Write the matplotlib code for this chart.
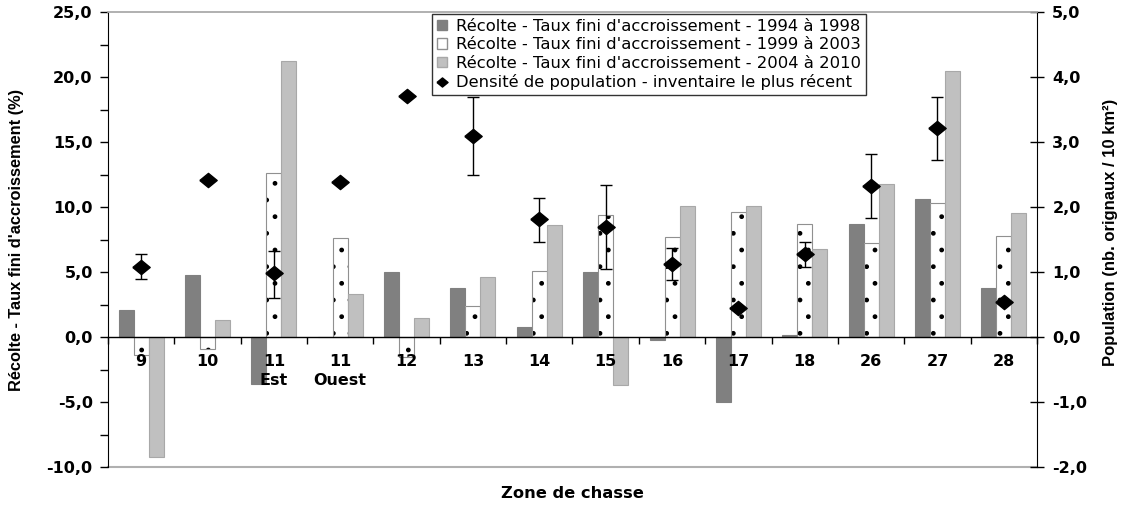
import matplotlib
matplotlib.use("Agg")
from matplotlib import pyplot as plt
from matplotlib.ticker import FuncFormatter, FixedLocator, NullFormatter
from matplotlib.patches import Patch
from matplotlib.lines import Line2D
import numpy as np

plt.rcParams['font.family'] = ['DejaVu Sans']

# zones de chasse
zones = ["9", "10", "11\nEst", "11\nOuest", "12", "13", "14", "15", "16", "17", "18", "26", "27", "28"]

# taux fini d'accroissement de la recolte (%)
taux_94_98 = [2.1, 4.8, -3.6, 0.0, 5.0, 3.8, 0.8, 5.0, -0.2, -5.0, 0.15, 8.7, 10.6, 3.8]
taux_99_03 = [-1.4, -0.95, 12.6, 7.6, -1.5, 2.4, 5.05, 9.4, 7.7, 9.6, 8.7, 7.2, 10.3, 7.8]
taux_04_10 = [-9.2, 1.3, 21.2, 3.3, 1.45, 4.6, 8.6, -3.7, 10.05, 10.1, 6.75, 11.8, 20.5, 9.55]

# densite de population (nb orignaux / 10 km2) et erreurs
densite = [1.08, 2.41, 0.98, 2.39, 3.71, 3.10, 1.81, 1.70, 1.12, 0.45, 1.27, 2.33, 3.22, 0.54]
err_bas = [0.18, 0, 0.38, 0, 0, 0.61, 0.35, 0.65, 0.25, 0, 0.20, 0.50, 0.50, 0]
err_haut = [0.20, 0, 0.35, 0, 0, 0.59, 0.33, 0.64, 0.25, 0, 0.19, 0.49, 0.48, 0]

x = np.arange(len(zones))
w = 0.226
gris_fonce = '#808080'
gris_clair = '#c0c0c0'
losange = [(-1, 0), (0, 0.82), (1, 0), (0, -0.82), (-1, 0)]

fig = plt.figure(figsize=(11.23, 5.08), dpi=100)
ax = fig.add_axes([108/1123, 1-467/508, (1037-108)/1123, (467-12)/508])
ax2 = ax.twinx()
ax.set_axisbelow(False)

ax.bar(x - w, taux_94_98, w, color=gris_fonce, edgecolor=gris_fonce, linewidth=0.8, zorder=2)
# barres pointillees : points noirs + contour gris
ax.bar(x, taux_99_03, w, color='white', edgecolor='black', hatch='.', linewidth=0, zorder=2)
ax.bar(x, taux_99_03, w, fill=False, edgecolor='#909090', linewidth=0.8, zorder=2)
ax.bar(x + w, taux_04_10, w, color=gris_clair, edgecolor='#a8a8a8', linewidth=0.8, zorder=2)

ax.set_xlim(-0.5, len(zones) - 0.5)
ax.set_ylim(-10, 25)
ax.set_yticks(np.arange(-10, 26, 5))
ax.yaxis.set_minor_locator(FixedLocator(np.arange(-7.5, 25, 5)))
fmt = FuncFormatter(lambda v, p: ("%.1f" % v).replace('.', ','))
ax.yaxis.set_major_formatter(fmt)
ax.tick_params(axis='y', which='both', direction='out', length=6, width=1, labelsize=11.5, pad=5)
for lb in ax.get_yticklabels():
    lb.set_fontweight('bold')

# axe des x sur la ligne zero
ax.spines['bottom'].set_position(('data', 0))
ax.spines['bottom'].set_linewidth(1)
ax.xaxis.set_major_locator(FixedLocator(np.arange(-0.5, len(zones), 1)))
ax.xaxis.set_major_formatter(NullFormatter())
ax.xaxis.set_minor_locator(FixedLocator(x))
ax.set_xticklabels(zones, minor=True)
ax.tick_params(axis='x', which='major', direction='out', length=5, width=1)
ax.tick_params(axis='x', which='minor', length=0, pad=12, labelsize=11.5)
for lb in ax.get_xticklabels(minor=True):
    lb.set_fontweight('bold')
    lb.set_linespacing(1.35)

for a in (ax, ax2):
    a.spines['top'].set_color('#b0b0b0')
    a.spines['top'].set_linewidth(1.2)
ax.spines['right'].set_visible(False)
ax2.spines['left'].set_visible(False)
ax2.spines['bottom'].set_visible(False)
ax.axhline(-10, color='#b0b0b0', linewidth=1.5, clip_on=False, zorder=1)

ax2.errorbar(x, densite, yerr=[err_bas, err_haut], fmt='none', ecolor='black', elinewidth=1, capsize=4, capthick=1, zorder=3)
ax2.plot(x, densite, linestyle='none', marker=losange, markersize=12.5, color='black', zorder=4)
ax2.set_ylim(-2, 5)
ax2.set_yticks(np.arange(-2, 6, 1))
ax2.yaxis.set_major_formatter(fmt)
ax2.tick_params(axis='y', direction='inout', length=10, width=1, labelsize=11.5, pad=6)
for lb in ax2.get_yticklabels():
    lb.set_fontweight('bold')

fig.text(17/1123, 1-240/508, "Récolte - Taux fini d'accroissement (%)", rotation=90,
         ha='center', va='center', fontsize=11.8, fontweight='bold', family='Liberation Sans')
fig.text(1110/1123, 1-232/508, "Population (nb. orignaux / 10 km²)", rotation=90,
         ha='center', va='center', fontsize=12, fontweight='bold', family='Liberation Sans')
fig.text(572/1123, 1-494/508, "Zone de chasse", ha='center', va='center', fontsize=11.7, fontweight='bold')

poignees = [
    Patch(facecolor=gris_fonce, edgecolor=gris_fonce),
    Patch(facecolor='white', edgecolor='#909090'),
    Patch(facecolor=gris_clair, edgecolor='#a8a8a8'),
    Line2D([], [], linestyle='none', marker=losange, markersize=8, color='black'),
]
textes = [
    "Récolte - Taux fini d'accroissement - 1994 à 1998",
    "Récolte - Taux fini d'accroissement - 1999 à 2003",
    "Récolte - Taux fini d'accroissement - 2004 à 2010",
    "Densité de population - inventaire le plus récent",
]
leg = ax2.legend(poignees, textes, loc='upper left', bbox_to_anchor=(432/1123, 1-14/508),
                 bbox_transform=fig.transFigure, fontsize=11.8, frameon=True, fancybox=False,
                 edgecolor='black', handlelength=0.65, handleheight=0.6, handletextpad=0.55,
                 labelspacing=0.22, borderpad=0.28, borderaxespad=0)
leg.get_frame().set_linewidth(1)
leg.set_zorder(10)

fig.savefig("out.png", dpi=100)
